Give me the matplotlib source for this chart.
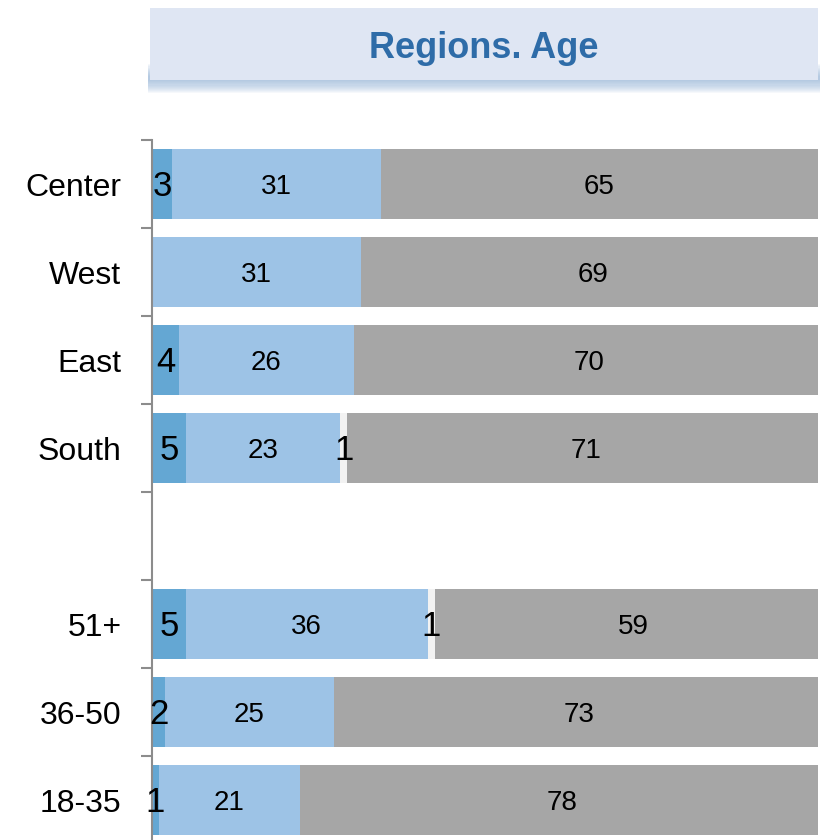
import numpy as np
import matplotlib.pyplot as plt
from matplotlib.patches import Rectangle

# Data (percent)
categories = ["Center", "West", "East", "South", "", "51+", "36-50", "18-35"]
dark_vals = [3, 0, 4, 5, 0, 5, 2, 1]
light_vals = [31, 31, 26, 23, 0, 36, 25, 21]
pale_vals = [0, 0, 0, 1, 0, 1, 0, 0]
grey_vals = [65, 69, 70, 71, 0, 59, 73, 78]

colors = ["#64a7d3", "#9dc3e6", "#f2f2f2", "#a6a6a6"]
small_font = 25
big_font = 20
font = ["Liberation Sans Narrow", "Liberation Sans", "DejaVu Sans"]
plt.rcParams["font.family"] = font

W, H = 826, 840
fig = plt.figure(figsize=(W / 100, H / 100), dpi=100)

# title box with soft shadow
x0, x1, y0, y1 = 150 / W, 818 / W, 1 - 80 / H, 1 - 8 / H
for i in range(12):
    off = (i + 1) * 1.1 / H
    fig.patches.append(Rectangle((x0 - 0.002, y0 - off), x1 - x0 + 0.004, 0.02,
                                 transform=fig.transFigure, color="#8fb0d8",
                                 alpha=0.08, lw=0, zorder=0))
fig.patches.append(Rectangle((x0, y0), x1 - x0, y1 - y0, transform=fig.transFigure,
                             facecolor="#dfe6f3", edgecolor="none", zorder=1))
fig.text((x0 + x1) / 2, (y0 + y1) / 2 - 4 / H, "Regions. Age", ha="center", va="center",
         fontsize=26, fontweight="bold", color="#2e6ca8", zorder=2)

ax = fig.add_axes([152 / W, 1 - 844 / H, (818 - 152) / W, (844 - 140) / H])
y = np.arange(len(categories))
series = [dark_vals, light_vals, pale_vals, grey_vals]
left = np.zeros(len(categories))
for vals, col in zip(series, colors):
    vals = np.array(vals, dtype=float)
    ax.barh(y, vals, left=left, height=0.79, color=col, linewidth=0)
    for yi, (l, v) in enumerate(zip(left, vals)):
        if v > 0:
            ax.text(l + v / 2, yi + 0.03, f"{int(v)}", ha="center", va="center",
                    fontsize=big_font if v >= 10 else small_font, color="black")
    left += vals

ax.set_xlim(0, 99)
ax.set_ylim(len(categories) - 0.5, -0.5)
ax.set_xticks([])
ax.set_yticks(np.arange(len(categories)) - 0.5)
ax.set_yticklabels([])
ax.set_yticks(y, minor=True)
ax.set_yticklabels(categories, minor=True, fontsize=23)
ax.tick_params(axis="y", which="major", length=8, width=1.5, color="#8c8c8c")
ax.tick_params(axis="y", which="minor", length=0, pad=22)
for s in ["top", "right", "bottom"]:
    ax.spines[s].set_visible(False)
ax.spines["left"].set_color("#8c8c8c")
ax.spines["left"].set_linewidth(1.5)

fig.savefig("out.png", dpi=100)
